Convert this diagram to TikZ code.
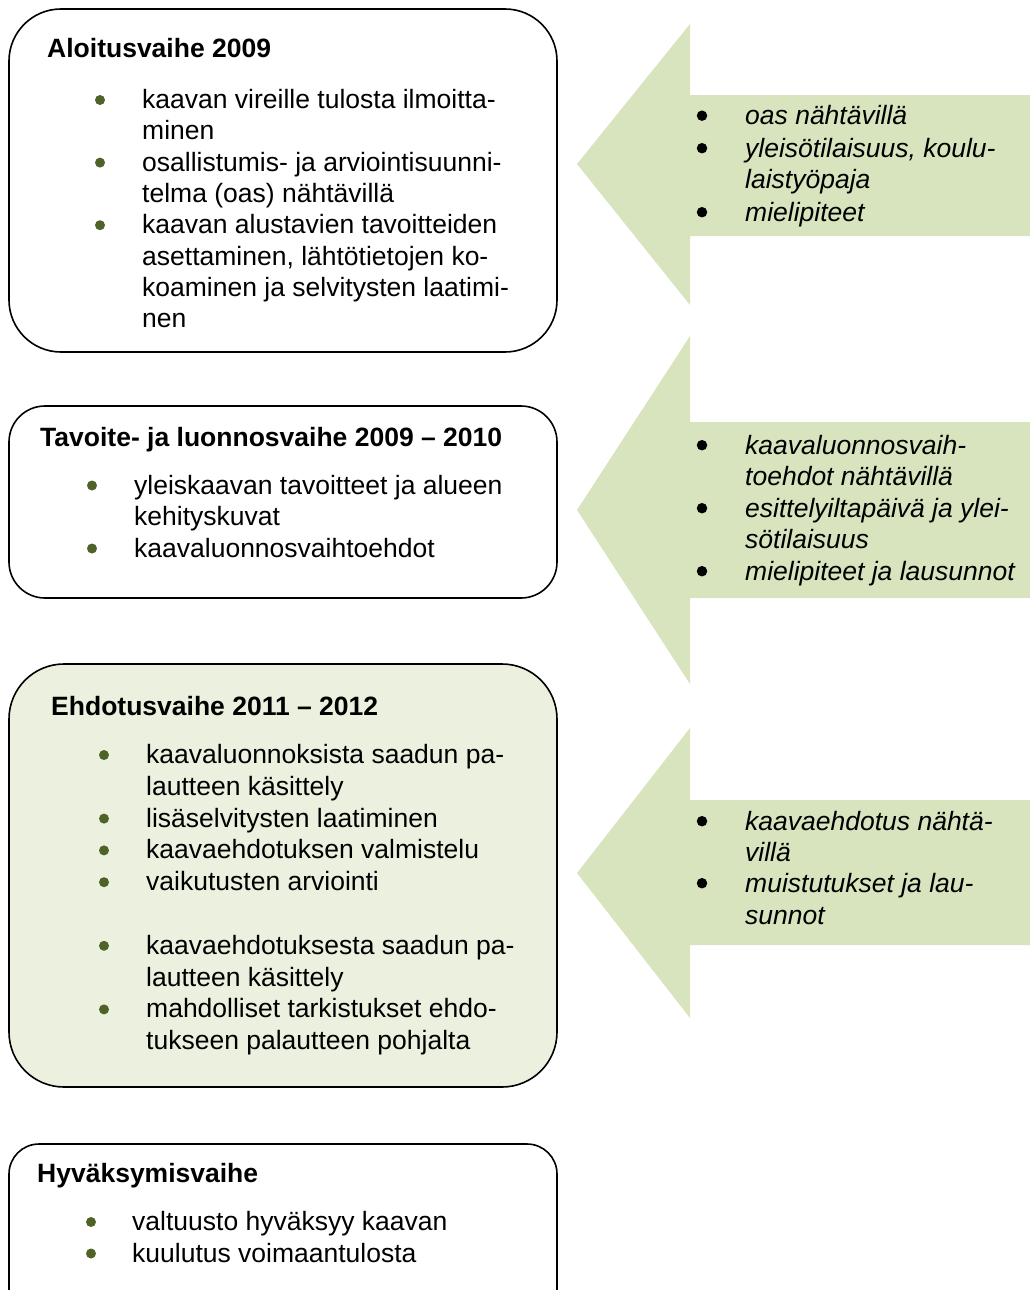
\documentclass[tikz,border=0pt]{standalone}
\usepackage{fontspec}
\setmainfont{Liberation Sans}
\definecolor{olivebul}{HTML}{4F6228}
\definecolor{arrowgreen}{HTML}{D7E4BD}
\definecolor{boxgreen}{HTML}{EBF1DE}
\tikzset{
  txt/.style={inner sep=0pt, anchor=base west, font=\fontsize{26.5}{31.6}\selectfont},
  ttl/.style={txt, font=\fontsize{26.5}{31.6}\selectfont\bfseries},
  itx/.style={txt, font=\fontsize{26.5}{31.6}\selectfont\itshape},
  bul/.style={circle, fill=olivebul, inner sep=0pt, minimum size=10pt},
  bulk/.style={circle, fill=black, inner sep=0pt, minimum size=10.5pt},
  boxst/.style={draw=black, line width=1.6pt},
  arrowst/.style={fill=arrowgreen},
}
% name, bullet x, text x, baseline y, text
\newcommand\bitem[5]{\node[bul] (#1b) at (#2,#4-8.5) {}; \node[txt] (#1) at (#3,#4) {#5};}
\newcommand\aitem[3]{\node[bulk] (#1b) at (702,#2-8.8) {}; \node[itx] (#1) at (745,#2) {#3};}
\newcommand\acont[3]{\node[itx] (#1) at (745,#2) {#3};}
\begin{document}
\begin{tikzpicture}[x=1pt,y=-1pt]
\useasboundingbox (0,0) rectangle (1030,1290);
\clip (0,0) rectangle (1030,1290);

% arrows
\fill[arrowst] (577,164) -- (690,24) -- (690,95) -- (1030,95) -- (1030,236) -- (690,236) -- (690,305) -- cycle;
\fill[arrowst] (577,510) -- (690,336) -- (690,422) -- (1030,422) -- (1030,598) -- (690,598) -- (690,684) -- cycle;
\fill[arrowst] (577,873) -- (690,728) -- (690,800) -- (1030,800) -- (1030,945) -- (690,945) -- (690,1018) -- cycle;

% boxes
\draw[boxst, rounded corners=52pt] (9,9) rectangle (557,352);
\draw[boxst, rounded corners=36pt] (9,406) rectangle (557,598);
\draw[boxst, fill=boxgreen, rounded corners=55pt] (9,664) rectangle (557,1087);
\draw[boxst, rounded corners=30pt] (9,1144) rectangle (557,1330);

% box 1
\node[ttl] (t1) at (47,58) {Aloitusvaihe 2009};
\bitem{a1}{100}{142}{108.5}{kaavan vireille tulosta ilmoitta-}
\node[txt] (a1c) at (142,139.8) {minen};
\bitem{a2}{100}{142}{171.1}{osallistumis- ja arviointisuunni-}
\node[txt] (a2c) at (142,202.4) {telma (oas) nähtävillä};
\bitem{a3}{100}{142}{233.7}{kaavan alustavien tavoitteiden}
\node[txt] (a3c) at (142,265) {asettaminen, lähtötietojen ko-};
\node[txt] (a3d) at (142,296.3) {koaminen ja selvitysten laatimi-};
\node[txt] (a3e) at (142,327.6) {nen};

% box 2
\node[ttl] (t2) at (40,446) {Tavoite- ja luonnosvaihe 2009 – 2010};
\bitem{b1}{92}{134}{494}{yleiskaavan tavoitteet ja alueen}
\node[txt] (b1c) at (134,525.5) {kehityskuvat};
\bitem{b2}{92}{134}{557}{kaavaluonnosvaihtoehdot}

% box 3
\node[ttl] (t3) at (51,715) {Ehdotusvaihe 2011 – 2012};
\bitem{c1}{104}{146}{763.5}{kaavaluonnoksista saadun pa-}
\node[txt] (c1c) at (146,795.3) {lautteen käsittely};
\bitem{c2}{104}{146}{827.1}{lisäselvitysten laatiminen}
\bitem{c3}{104}{146}{858.9}{kaavaehdotuksen valmistelu}
\bitem{c4}{104}{146}{890.7}{vaikutusten arviointi}
\bitem{c5}{104}{146}{954.3}{kaavaehdotuksesta saadun pa-}
\node[txt] (c5c) at (146,986.1) {lautteen käsittely};
\bitem{c6}{104}{146}{1017.9}{mahdolliset tarkistukset ehdo-}
\node[txt] (c6c) at (146,1049.7) {tukseen palautteen pohjalta};

% box 4
\node[ttl] (t4) at (37,1182) {Hyväksymisvaihe};
\bitem{d1}{91}{132}{1230.5}{valtuusto hyväksyy kaavan}
\bitem{d2}{91}{132}{1262}{kuulutus voimaantulosta}

% arrow 1 text
\aitem{e1}{124.5}{oas nähtävillä}
\aitem{e2}{157}{yleisötilaisuus, koulu-}
\acont{e2c}{188.5}{laistyöpaja}
\aitem{e3}{221}{mielipiteet}

% arrow 2 text
\aitem{f1}{454}{kaavaluonnosvaih-}
\acont{f1c}{485.5}{toehdot nähtävillä}
\aitem{f2}{517}{esittelyiltapäivä ja ylei-}
\acont{f2c}{548.5}{sötilaisuus}
\aitem{f3}{580}{mielipiteet ja lausunnot}

% arrow 3 text
\aitem{g1}{830}{kaavaehdotus nähtä-}
\acont{g1c}{861}{villä}
\aitem{g2}{892}{muistutukset ja lau-}
\acont{g2c}{924}{sunnot}
\end{tikzpicture}
\end{document}
